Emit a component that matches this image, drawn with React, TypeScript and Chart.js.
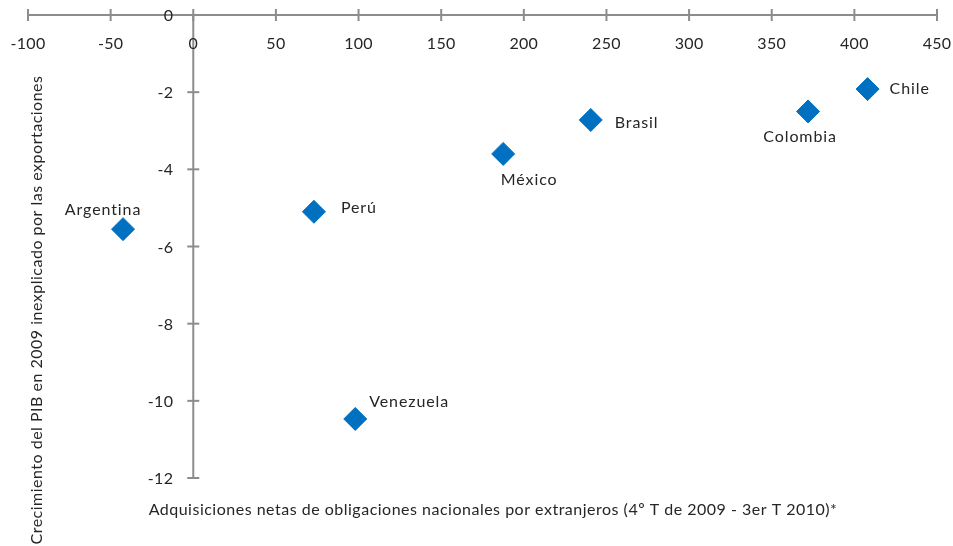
import React, { useEffect, useRef } from 'react';
import { Chart, registerables } from 'chart.js';

Chart.register(...registerables);

const countries = ['Argentina', 'Perú', 'Venezuela', 'México', 'Brasil', 'Colombia', 'Chile'];
const adquisiciones = [-42.5, 73, 98, 187.5, 240.5, 372, 408];
const crecimiento = [-5.55, -5.1, -10.47, -3.6, -2.72, -2.5, -1.92];
const xTicks = [-100, -50, 0, 50, 100, 150, 200, 250, 300, 350, 400, 450];
const yTicks = [0, -2, -4, -6, -8, -10, -12];
const xTitle = 'Adquisiciones netas de obligaciones nacionales por extranjeros (4º T de 2009 - 3er T 2010)*';
const yTitle = 'Crecimiento del PIB en 2009 inexplicado por las exportaciones';

// label placement (style): dx, dy from marker centre, text alignment
const labelPlacement: { dx: number; dy: number; align: CanvasTextAlign }[] = [
  { dx: -20, dy: -19, align: 'center' },
  { dx: 27, dy: -4, align: 'left' },
  { dx: 14, dy: -17, align: 'left' },
  { dx: 26, dy: 26, align: 'center' },
  { dx: 24, dy: 3, align: 'left' },
  { dx: -8, dy: 25, align: 'center' },
  { dx: 22, dy: 0, align: 'left' },
];

const FONT = 'Lato, "Open Sans", sans-serif';
const AXIS_COLOR = '#8c8c8c';
const TEXT_COLOR = '#262626';
const MARKER = '#0070C0';

function setSpacing(ctx: any, v: string) {
  if ('letterSpacing' in ctx) ctx.letterSpacing = v;
}

const axesPlugin = {
  id: 'customAxes',
  beforeDatasetsDraw(chart: any) {
    const { ctx, scales } = chart;
    const xs = scales.x;
    const ys = scales.y;
    const x0 = xs.getPixelForValue(0);
    const y0 = ys.getPixelForValue(0);
    ctx.save();
    ctx.strokeStyle = AXIS_COLOR;
    ctx.lineWidth = 2;
    // x axis line
    ctx.beginPath();
    ctx.moveTo(xs.getPixelForValue(xTicks[0]), y0);
    ctx.lineTo(xs.getPixelForValue(xTicks[xTicks.length - 1]), y0);
    ctx.stroke();
    xTicks.forEach((t) => {
      const px = xs.getPixelForValue(t);
      ctx.beginPath();
      ctx.moveTo(px, y0 - 6);
      ctx.lineTo(px, y0 + 6);
      ctx.stroke();
    });
    // y axis line
    ctx.beginPath();
    ctx.moveTo(x0, ys.getPixelForValue(yTicks[0]));
    ctx.lineTo(x0, ys.getPixelForValue(yTicks[yTicks.length - 1]));
    ctx.stroke();
    yTicks.forEach((t) => {
      const py = ys.getPixelForValue(t);
      ctx.beginPath();
      ctx.moveTo(x0 - 6, py);
      ctx.lineTo(x0 + 6, py);
      ctx.stroke();
    });
    // tick labels
    ctx.fillStyle = TEXT_COLOR;
    ctx.font = `16px ${FONT}`;
    setSpacing(ctx, '0.3px');
    ctx.textAlign = 'center';
    ctx.textBaseline = 'middle';
    xTicks.forEach((t) => {
      ctx.fillText(String(t), xs.getPixelForValue(t), y0 + 29);
    });
    ctx.textAlign = 'right';
    yTicks.forEach((t) => {
      ctx.fillText(String(t), x0 - 20, ys.getPixelForValue(t) + 1);
    });
    ctx.restore();
  },
  afterDatasetsDraw(chart: any) {
    const { ctx, scales } = chart;
    const xs = scales.x;
    const ys = scales.y;
    ctx.save();
    ctx.fillStyle = TEXT_COLOR;
    ctx.font = `16px ${FONT}`;
    setSpacing(ctx, '0.9px');
    ctx.textBaseline = 'middle';
    countries.forEach((name, i) => {
      const p = labelPlacement[i];
      ctx.textAlign = p.align;
      ctx.fillText(name, xs.getPixelForValue(adquisiciones[i]) + p.dx, ys.getPixelForValue(crecimiento[i]) + p.dy);
    });
    // axis titles
    setSpacing(ctx, '0.5px');
    ctx.textAlign = 'center';
    ctx.fillText(xTitle, 493, 510);
    ctx.translate(37, 310);
    ctx.rotate(-Math.PI / 2);
    ctx.fillText(yTitle, 0, 0);
    ctx.restore();
  },
};

export default function App() {
  const ref = useRef<HTMLCanvasElement>(null);
  useEffect(() => {
    if (!ref.current) return;
    const chart = new Chart(ref.current, {
      type: 'scatter',
      data: {
        datasets: [
          {
            label: 'Países',
            data: countries.map((_, i) => ({ x: adquisiciones[i], y: crecimiento[i] })),
            pointStyle: 'rectRot',
            pointRadius: 11.5,
            pointHoverRadius: 11.5,
            backgroundColor: MARKER,
            borderColor: MARKER,
            borderWidth: 1,
          },
        ],
      },
      options: {
        responsive: false,
        animation: false,
        layout: { padding: { left: 28, right: 16, top: 15, bottom: 68 } },
        plugins: { legend: { display: false }, tooltip: { enabled: false } },
        scales: {
          x: { type: 'linear', min: -100, max: 450, display: false },
          y: { type: 'linear', min: -12, max: 0, display: false },
        },
      },
      plugins: [axesPlugin],
    });
    return () => chart.destroy();
  }, []);
  return (
    <div style={{ position: 'fixed', left: 0, top: 0, width: 953, height: 546, background: '#fff' }}>
      <canvas ref={ref} width={953} height={546} />
    </div>
  );
}
